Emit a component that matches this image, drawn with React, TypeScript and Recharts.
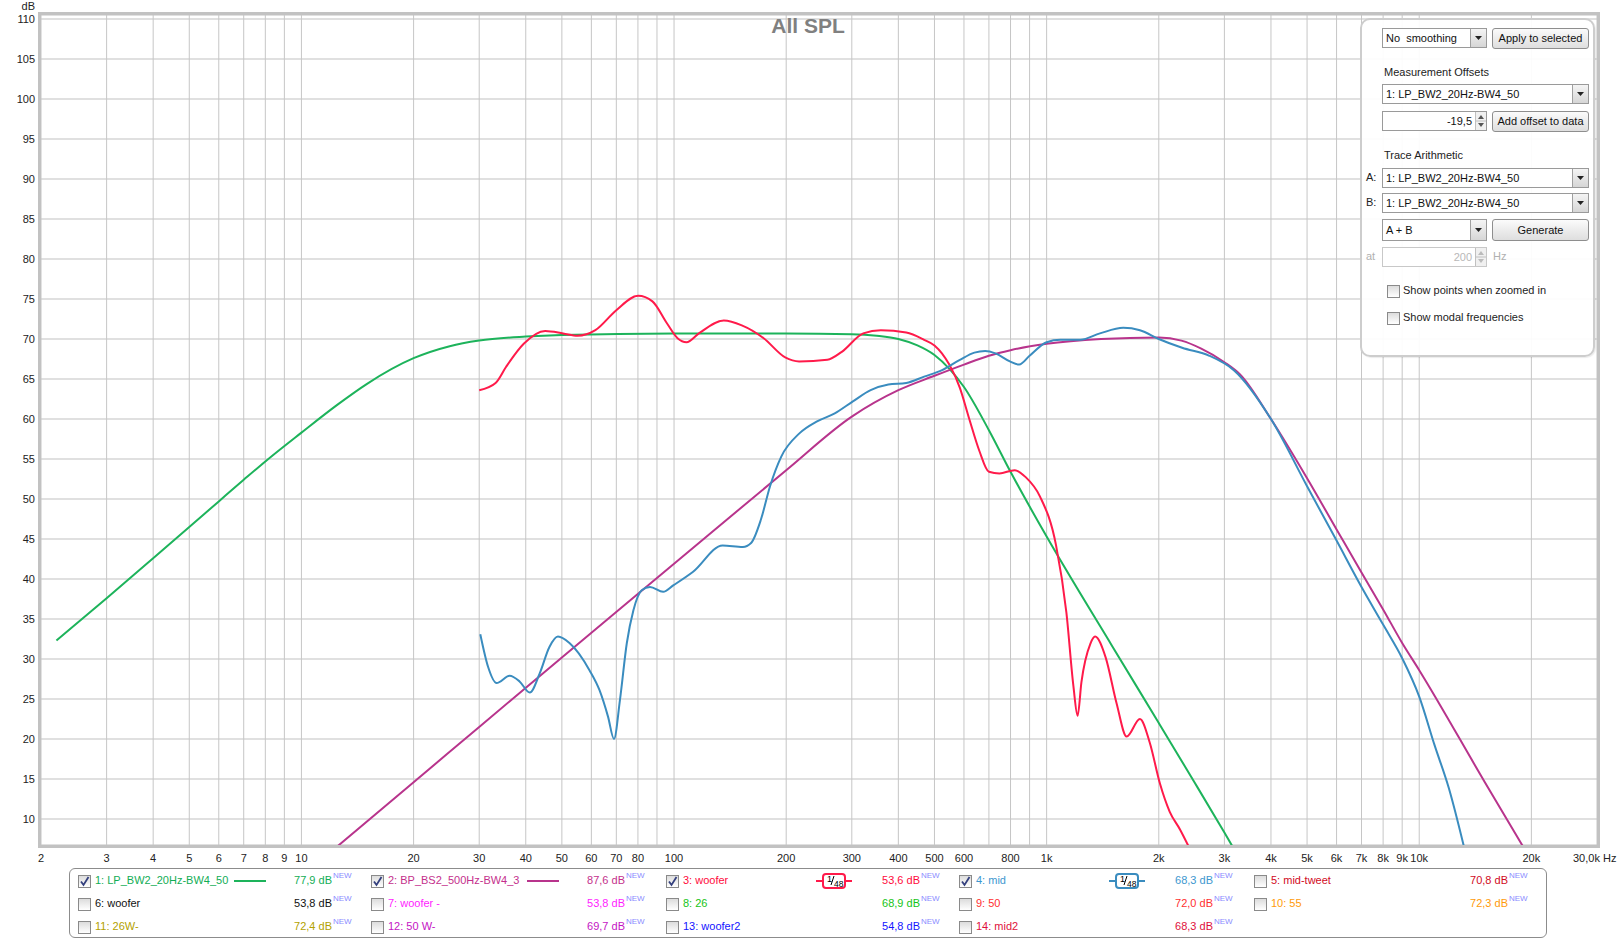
import React from "react";
import { LineChart, Line, XAxis, YAxis, CartesianGrid } from "recharts";

const FONT = '"Liberation Sans", Arial, sans-serif';

// frequency grid / tick labels
const xTicks = [
  2, 3, 4, 5, 6, 7, 8, 9, 10, 20, 30, 40, 50, 60, 70, 80, 90, 100, 200, 300, 400, 500, 600, 700, 800, 900,
  1000, 2000, 3000, 4000, 5000, 6000, 7000, 8000, 9000, 10000, 20000, 30000,
];
const xLabels: Record<number, string> = {
  2: "2", 3: "3", 4: "4", 5: "5", 6: "6", 7: "7", 8: "8", 9: "9", 10: "10",
  20: "20", 30: "30", 40: "40", 50: "50", 60: "60", 70: "70", 80: "80", 100: "100",
  200: "200", 300: "300", 400: "400", 500: "500", 600: "600", 800: "800",
  1000: "1k", 2000: "2k", 3000: "3k", 4000: "4k", 5000: "5k", 6000: "6k", 7000: "7k", 8000: "8k", 9000: "9k",
  10000: "10k", 20000: "20k", 30000: "30,0k Hz",
};
const yTicks = [10, 15, 20, 25, 30, 35, 40, 45, 50, 55, 60, 65, 70, 75, 80, 85, 90, 95, 100, 105, 110];

// 1: LP_BW2_20Hz-BW4_50
const lpF = [2.2, 3, 4, 5, 6, 7, 8, 10, 12.5, 15, 20, 25, 30, 40, 50, 100, 200, 300, 350, 400, 450, 500, 550, 600, 700, 800, 1000, 1500, 2000, 2500, 3000, 3300];
const lpDb = [32.3, 37.6, 42.6, 46.5, 49.7, 52.4, 54.7, 58.3, 61.8, 64.4, 67.6, 69.1, 69.8, 70.3, 70.5, 70.7, 70.7, 70.6, 70.4, 70.0, 69.2, 68.0, 66.2, 64.0, 58.6, 53.4, 45.3, 31.6, 22.0, 14.5, 8.3, 5.0];

// 2: BP_BS2_500Hz-BW4_3
const bpF = [12, 20, 30, 50, 100, 200, 300, 400, 500, 600, 700, 800, 1000, 1400, 2000, 2300, 2600, 3000, 3300, 4000, 5000, 6000, 7000, 8000, 9000, 10000, 15000, 20000];
const bpDb = [5.9, 14.6, 21.5, 30.2, 41.9, 53.6, 60.3, 63.6, 65.4, 66.8, 67.9, 68.6, 69.4, 70.0, 70.2, 69.8, 68.8, 67.1, 65.6, 60.0, 52.6, 46.2, 40.8, 36.2, 32.0, 28.6, 14.6, 4.8];

// 3: woofer
const wooF = [30, 33.2, 35.4, 39.5, 45.1, 50.4, 55.1, 61.5, 70, 80.1, 87.5, 95.6, 102.2, 108, 116.6, 136, 152, 174, 198.8, 216.6, 258, 282, 322, 359, 420, 469, 500, 548, 585, 620, 660, 700, 747, 820, 880, 960, 1060, 1130, 1180, 1211, 1240, 1310, 1349, 1440, 1540, 1640, 1780, 1890, 2015, 2140, 2280, 2450];
const wooDb = [63.6, 64.5, 66.5, 69.4, 71.0, 70.7, 70.4, 71.1, 73.6, 75.4, 74.7, 72.0, 70.1, 69.6, 70.7, 72.3, 71.7, 70.1, 67.7, 67.2, 67.4, 68.4, 70.7, 71.1, 70.8, 69.9, 69.2, 66.8, 63.9, 60.0, 56.0, 53.4, 53.2, 53.6, 52.7, 50.3, 44.2, 35.8, 26.6, 22.9, 27.1, 31.9, 32.8, 30.2, 24.5, 20.3, 22.5, 19.6, 14.4, 10.9, 8.7, 5.8];

// 4: mid
const midF = [30.2, 31.7, 33.4, 36.2, 38.5, 41, 43.6, 46.3, 48.8, 52.4, 59.3, 63.1, 66.5, 69, 71.6, 74.7, 77.8, 81.9, 86.2, 93.5, 99.5, 112.5, 135, 153, 161, 171, 181, 194, 217, 242, 270, 302, 337, 376, 420, 469, 524, 585, 640, 684, 729, 797, 844, 900, 1000, 1089, 1232, 1390, 1606, 1780, 2000, 2310, 2735, 3180, 4000, 5000, 6000, 7000, 8000, 9000, 10000, 11000, 12000, 13300];
const midDb = [33.1, 29.0, 27.0, 27.9, 27.2, 25.8, 28.2, 31.5, 32.8, 32.0, 28.6, 26.1, 22.8, 20.0, 24.9, 32.0, 36.1, 38.6, 39.0, 38.4, 39.2, 40.9, 44.2, 44.0, 44.5, 47.4, 51.6, 55.3, 58.2, 59.7, 60.7, 62.2, 63.6, 64.3, 64.5, 65.3, 66.1, 67.4, 68.3, 68.5, 68.2, 67.2, 66.8, 67.9, 69.6, 69.9, 69.9, 70.7, 71.4, 71.1, 70.0, 68.9, 67.9, 66.1, 60.0, 51.6, 44.8, 39.0, 34.3, 30.1, 25.3, 19.2, 13.9, 5.8];

const toPts = (f: number[], d: number[]) => f.map((v, i) => ({ f: v, db: d[i] }));

// legend
const legendNames = [
  "1: LP_BW2_20Hz-BW4_50", "2: BP_BS2_500Hz-BW4_3", "3: woofer", "4: mid", "5: mid-tweet",
  "6: woofer", "7: woofer -", "8: 26", "9: 50", "10: 55",
  "11: 26W-", "12: 50 W-", "13: woofer2", "14: mid2",
];
const legendValues = ["77,9", "87,6", "53,6", "68,3", "70,8", "53,8", "53,8", "68,9", "72,0", "72,3", "72,4", "69,7", "54,8", "68,3"];
const legendColors = [
  "#12ad55", "#c42f8c", "#ff0a3c", "#3d97cf", "#d10a24",
  "#111111", "#ff1cff", "#16c416", "#ff3030", "#ff9a0a",
  "#b3a100", "#c414c4", "#1414ff", "#e0103c",
];
const legendChecked = [true, true, true, true, false, false, false, false, false, false, false, false, false, false];
const legendMarks = ["line", "line", "smooth", "smooth", "", "", "", "", "", "", "", "", "", ""];

const GREEN = "#1db35b";
const MAGENTA = "#b8348c";
const RED = "#ff1a4a";
const BLUE = "#3a8cbf";
const markColors = [GREEN, MAGENTA, RED, BLUE];

const XTick = (props: any) => {
  const v = props.payload.value;
  const label = xLabels[v];
  if (!label) return null;
  if (v === 30000) {
    return (
      <text x={props.x - 24} y={862} fontSize={11} fontFamily={FONT} fill="#222" textAnchor="start">
        {label}
      </text>
    );
  }
  return (
    <text x={props.x} y={862} fontSize={11} fontFamily={FONT} fill="#222" textAnchor="middle">
      {label}
    </text>
  );
};

const YTick = (props: any) => (
  <text x={35} y={props.y + 4} fontSize={11} fontFamily={FONT} fill="#222" textAnchor="end">
    {props.payload.value}
  </text>
);

function CheckBox({ checked, left, top }: { checked: boolean; left: number; top: number }) {
  return (
    <div
      style={{
        position: "absolute", left, top, width: 11, height: 11,
        border: "1px solid #8a8a8a",
        background: "linear-gradient(#dcdcdc, #ffffff)",
      }}
    >
      {checked && (
        <svg width={11} height={11} style={{ position: "absolute", left: 0, top: 0 }}>
          <path d="M2 5.5 L4.5 9 L9.5 1" stroke="#34407e" strokeWidth={1.8} fill="none" />
        </svg>
      )}
    </div>
  );
}

function SmoothIcon({ color }: { color: string }) {
  return (
    <svg width={36} height={18} style={{ display: "block" }}>
      <line x1={0} y1={9} x2={36} y2={9} stroke={color} strokeWidth={2} />
      <rect x={7} y={2} width={22} height={14} rx={3} fill="#fff" stroke={color} strokeWidth={2} />
      <text x={11} y={10} fontSize={9} fontFamily={FONT} fill="#000">1</text>
      <line x1={15} y1={13} x2={18} y2={4} stroke="#000" strokeWidth={1} />
      <text x={18} y={14.5} fontSize={8.5} fontFamily={FONT} fill="#000">48</text>
    </svg>
  );
}

function Legend() {
  const colStarts = [9, 302, 597, 890, 1185];
  const rowCenters = [13, 35.5, 58.5];
  return (
    <div
      style={{
        position: "absolute", left: 69, top: 868, width: 1478, height: 70,
        border: "1px solid #8c8c8c", borderRadius: 6, boxSizing: "border-box",
        fontFamily: FONT, fontSize: 11,
      }}
    >
      {legendNames.map((name, i) => {
        const cx = colStarts[i % 5] - 1;
        const cy = rowCenters[Math.floor(i / 5)] - 1;
        const color = legendColors[i];
        return (
          <React.Fragment key={name}>
            <CheckBox checked={legendChecked[i]} left={cx} top={cy - 6} />
            <div style={{ position: "absolute", left: cx + 17, top: cy - 7, color, whiteSpace: "pre", lineHeight: "13px" }}>
              {name}
            </div>
            {legendMarks[i] === "line" && (
              <div style={{ position: "absolute", left: cx + 156, top: cy - 1, width: 32, height: 2, background: markColors[i] }} />
            )}
            {legendMarks[i] === "smooth" && (
              <div style={{ position: "absolute", left: cx + 150, top: cy - 9 }}>
                <SmoothIcon color={markColors[i]} />
              </div>
            )}
            <div
              style={{
                position: "absolute", left: cx + 174, width: 80, top: cy - 7, textAlign: "right",
                color, whiteSpace: "pre", lineHeight: "13px",
              }}
            >
              {legendValues[i] + " dB"}
            </div>
            <div style={{ position: "absolute", left: cx + 255, top: cy - 10, fontSize: 8, color: "#8a8cff", lineHeight: "10px" }}>
              NEW
            </div>
          </React.Fragment>
        );
      })}
    </div>
  );
}

const arrowBtn = (h: number) => (
  <div
    style={{
      position: "absolute", right: 0, top: 0, width: 15, height: h,
      borderLeft: "1px solid #a0a0a0", background: "linear-gradient(#f4f4f4, #d6d6d6)",
    }}
  >
    <svg width={15} height={h} style={{ display: "block" }}>
      <path d={`M4 ${h / 2 - 2} L11 ${h / 2 - 2} L7.5 ${h / 2 + 2} Z`} fill="#222" />
    </svg>
  </div>
);

function Combo({ left, top, width, height, text }: { left: number; top: number; width: number; height: number; text: string }) {
  return (
    <div
      style={{
        position: "absolute", left, top, width, height, boxSizing: "border-box",
        border: "1px solid #9a9a9a", background: "#fff",
      }}
    >
      <div style={{ position: "absolute", left: 3, top: 0, lineHeight: `${height - 2}px`, whiteSpace: "pre", color: "#111" }}>{text}</div>
      {arrowBtn(height - 2)}
    </div>
  );
}

function Button({ left, top, width, height, text }: { left: number; top: number; width: number; height: number; text: string }) {
  return (
    <div
      style={{
        position: "absolute", left, top, width, height, boxSizing: "border-box",
        border: "1px solid #8e8e8e", borderRadius: 3,
        background: "linear-gradient(#fbfbfb, #dedede)", textAlign: "center",
        lineHeight: `${height - 2}px`, color: "#111",
      }}
    >
      {text}
    </div>
  );
}

function Spinner({ left, top, width, height, text, disabled }: { left: number; top: number; width: number; height: number; text: string; disabled?: boolean }) {
  const c = disabled ? "#b8b8b8" : "#111";
  return (
    <div
      style={{
        position: "absolute", left, top, width, height, boxSizing: "border-box",
        border: `1px solid ${disabled ? "#c8c8c8" : "#9a9a9a"}`, background: "#fff",
      }}
    >
      <div style={{ position: "absolute", right: 14, top: 0, lineHeight: `${height - 2}px`, color: c }}>{text}</div>
      <div style={{ position: "absolute", right: 0, top: 0, width: 10, height: height - 2, borderLeft: "1px solid #c0c0c0", background: "#f0f0f0" }}>
        <svg width={10} height={height - 2} style={{ display: "block" }}>
          <path d="M2 7 L8 7 L5 3 Z" fill={disabled ? "#bbb" : "#555"} />
          <line x1={0} y1={(height - 2) / 2} x2={10} y2={(height - 2) / 2} stroke="#c0c0c0" />
          <path d={`M2 ${height - 9} L8 ${height - 9} L5 ${height - 5} Z`} fill={disabled ? "#bbb" : "#555"} />
        </svg>
      </div>
    </div>
  );
}

function Panel() {
  const label = (left: number, top: number, text: string, color = "#222") => (
    <div style={{ position: "absolute", left, top, color, whiteSpace: "pre", lineHeight: "13px" }}>{text}</div>
  );
  return (
    <div style={{ position: "absolute", left: 0, top: 0, fontFamily: FONT, fontSize: 11 }}>
      <div
        style={{
          position: "absolute", left: 1360, top: 18, width: 235, height: 339, boxSizing: "border-box",
          border: "2px solid #cdcdcd", borderRadius: 10, background: "rgba(255,255,255,0.93)",
          boxShadow: "1px 1px 1px rgba(0,0,0,0.08)",
        }}
      />
      <Combo left={1382} top={28} width={105} height={20} text="No  smoothing" />
      <Button left={1492} top={28} width={97} height={21} text="Apply to selected" />
      {label(1384, 66, "Measurement Offsets")}
      <Combo left={1382} top={84} width={207} height={20} text="1: LP_BW2_20Hz-BW4_50" />
      <Spinner left={1382} top={111} width={105} height={20} text="-19,5" />
      <Button left={1492} top={111} width={97} height={21} text="Add offset to data" />
      {label(1384, 149, "Trace Arithmetic")}
      {label(1366, 171, "A:")}
      <Combo left={1382} top={168} width={207} height={20} text="1: LP_BW2_20Hz-BW4_50" />
      {label(1366, 196, "B:")}
      <Combo left={1382} top={193} width={207} height={20} text="1: LP_BW2_20Hz-BW4_50" />
      <Combo left={1382} top={219} width={105} height={22} text="A + B" />
      <Button left={1492} top={219} width={97} height={22} text="Generate" />
      {label(1366, 250, "at", "#b0b0b0")}
      <Spinner left={1382} top={247} width={105} height={20} text="200" disabled />
      {label(1493, 250, "Hz", "#b0b0b0")}
      <CheckBox checked={false} left={1387} top={285} />
      {label(1403, 284, "Show points when zoomed in")}
      <CheckBox checked={false} left={1387} top={312} />
      {label(1403, 311, "Show modal frequencies")}
    </div>
  );
}

export default function App() {
  return (
    <div style={{ position: "absolute", left: 0, top: 0, width: 1617, height: 941, background: "#fff", fontFamily: FONT }}>
      <LineChart width={1617} height={941} margin={{ top: 15, right: 20, bottom: 66, left: 5 }}>
        <CartesianGrid horizontal={true} vertical={false} stroke="#d6d6d6" strokeWidth={1.6} />
        <CartesianGrid horizontal={false} vertical={true} stroke="#c6c6c6" strokeWidth={1} />
        <XAxis
          type="number"
          dataKey="f"
          scale="log"
          domain={[2, 30000]}
          ticks={xTicks}
          interval={0}
          allowDataOverflow
          axisLine={false}
          tickLine={false}
          height={30}
          tick={<XTick />}
        />
        <YAxis
          type="number"
          domain={[6.75, 110.5]}
          ticks={yTicks}
          interval={0}
          allowDataOverflow
          axisLine={false}
          tickLine={false}
          width={36}
          tick={<YTick />}
        />
        <Line data={toPts(lpF, lpDb)} dataKey="db" type="monotone" stroke={GREEN} strokeWidth={2} dot={false} isAnimationActive={false} />
        <Line data={toPts(bpF, bpDb)} dataKey="db" type="monotone" stroke={MAGENTA} strokeWidth={2} dot={false} isAnimationActive={false} />
        <Line data={toPts(wooF, wooDb)} dataKey="db" type="monotone" stroke={RED} strokeWidth={2} dot={false} isAnimationActive={false} />
        <Line data={toPts(midF, midDb)} dataKey="db" type="monotone" stroke={BLUE} strokeWidth={2} dot={false} isAnimationActive={false} />
      </LineChart>

      {/* plot frame */}
      <div
        style={{
          position: "absolute", left: 38, top: 12, width: 1562, height: 836, boxSizing: "border-box",
          border: "3px solid #c2c2c2", borderLeftWidth: 3, pointerEvents: "none",
        }}
      />
      <svg width={1617} height={60} style={{ position: "absolute", left: 0, top: 0, pointerEvents: "none" }}>
        <text x={35} y={10} fontSize={11} fontFamily={FONT} fill="#222" textAnchor="end">dB</text>
        <text x={808} y={33} fontSize={21} fontWeight="bold" fontFamily={FONT} fill="#808080" textAnchor="middle">All SPL</text>
      </svg>
      <Panel />
      <Legend />
    </div>
  );
}
